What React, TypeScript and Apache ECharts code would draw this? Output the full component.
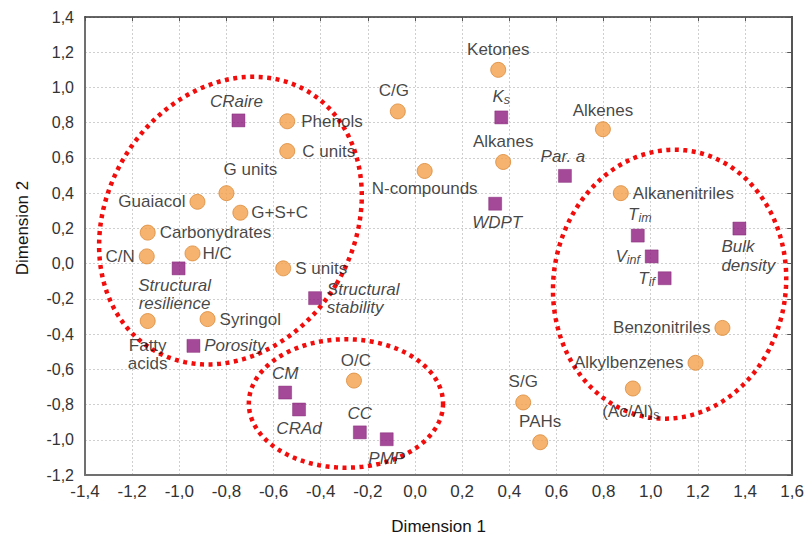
import React, { useEffect, useRef } from "react";
import * as echarts from "echarts";

// Organic compound variables (orange circles)
const compoundNames = [
  "Ketones", "C/G", "Phenols", "C units", "G units", "Guaiacol", "G+S+C",
  "Carbonydrates", "C/N", "H/C", "S units", "Fatty acids", "Syringol", "O/C",
  "N-compounds", "Alkanes", "Alkenes", "Alkanenitriles", "Benzonitriles",
  "Alkylbenzenes", "(Ac/Al)s", "S/G", "PAHs",
];
const compoundX = [
  0.353, -0.073, -0.542, -0.542, -0.8, -0.923, -0.741,
  -1.134, -1.138, -0.944, -0.559, -1.134, -0.88, -0.259,
  0.041, 0.374, 0.797, 0.873, 1.304,
  1.19, 0.924, 0.459, 0.531,
];
const compoundY = [
  1.1, 0.864, 0.808, 0.639, 0.4, 0.351, 0.289,
  0.176, 0.041, 0.058, -0.027, -0.326, -0.315, -0.664,
  0.526, 0.577, 0.763, 0.4, -0.365,
  -0.563, -0.709, -0.788, -1.014,
];

// Soil property variables (purple squares)
const propertyNames = [
  "CRaire", "Ks", "Par. a", "WDPT", "Tim", "Vinf", "Tif", "Bulk density",
  "Structural resilience", "Structural stability", "Porosity", "CM", "CRAd",
  "CC", "PMP",
];
const propertyX = [
  -0.749, 0.366, 0.636, 0.34, 0.945, 1.004, 1.059, 1.376,
  -1.003, -0.424, -0.94, -0.551, -0.492,
  -0.234, -0.12,
];
const propertyY = [
  0.813, 0.83, 0.498, 0.34, 0.159, 0.041, -0.083, 0.199,
  -0.027, -0.196, -0.467, -0.732, -0.828,
  -0.958, -0.997,
];

// Grouping ellipses: centre x, centre y, semi-axis x, semi-axis y (in x-axis units), clockwise tilt (deg)
const ellipseCX = [-0.783, -0.293, 1.08];
const ellipseCY = [0.244, -0.794, -0.117];
const ellipseRX = [0.524, 0.412, 0.493];
const ellipseRY = [0.639, 0.2725, 0.572];
const ellipseTilt = [31.2, 0, 8.3];

const X_MIN = -1.4, X_MAX = 1.6, Y_MIN = -1.2, Y_MAX = 1.4, STEP = 0.2;

const FONT = "'Liberation Sans', Arial, Helvetica, sans-serif";
const LABEL_SIZE = 17;
const ORANGE = "#F2A04B";
const ORANGE_EDGE = "#DC8A38";
const PURPLE = "#8D1C7E";

type Place = { pos: string; dx?: number; dy?: number; align?: string; lh?: number; dist?: number };

const placement: Record<string, Place> = {
  Ketones: { pos: "top" },
  "C/G": { pos: "top", dx: -4 },
  Phenols: { pos: "right", dist: 6 },
  "C units": { pos: "right", dist: 7 },
  "G units": { pos: "top", dx: 24, dy: -3 },
  Guaiacol: { pos: "left" },
  "G+S+C": { pos: "right", dist: 3 },
  Carbonydrates: { pos: "right", dist: 4 },
  "C/N": { pos: "left", dist: 4 },
  "H/C": { pos: "right", dist: 2 },
  "S units": { pos: "right" },
  "Fatty acids": { pos: "bottom", dy: 3, lh: 18 },
  Syringol: { pos: "right" },
  "O/C": { pos: "top", dx: 2 },
  "N-compounds": { pos: "bottom", dist: 1 },
  Alkanes: { pos: "top" },
  Alkenes: { pos: "top", dy: 2 },
  Alkanenitriles: { pos: "right" },
  Benzonitriles: { pos: "left" },
  Alkylbenzenes: { pos: "left" },
  "(Ac/Al)s": { pos: "bottom", dx: -2 },
  "S/G": { pos: "top" },
  PAHs: { pos: "top" },
  CRaire: { pos: "top", dx: -2 },
  Ks: { pos: "top" },
  "Par. a": { pos: "top", dx: -2 },
  WDPT: { pos: "bottom", dx: 2 },
  Tim: { pos: "top", dx: 2 },
  Vinf: { pos: "left", dist: 5 },
  Tif: { pos: "left", dist: 3 },
  "Bulk density": { pos: "bottom", dx: -18, align: "left", lh: 19, dist: 2 },
  "Structural resilience": { pos: "bottom", dx: -4, lh: 18, dist: 1 },
  "Structural stability": { pos: "right", lh: 18, dist: 5 },
  Porosity: { pos: "right" },
  CM: { pos: "top" },
  CRAd: { pos: "bottom" },
  CC: { pos: "top" },
  PMP: { pos: "bottom" },
};

// Label texts that need line breaks or subscripts
const labelText: Record<string, string> = {
  "Fatty acids": "Fatty\nacids",
  "(Ac/Al)s": "{n|(Ac/Al)}{subn|s}",
  Ks: "{i|K}{sub|s}",
  Tim: "{i|T}{sub|im}",
  Vinf: "{i|V}{sub|inf}",
  Tif: "{i|T}{sub|if}",
  "Bulk density": "Bulk\ndensity",
  "Structural resilience": "Structural\nresilience",
  "Structural stability": "Structural\nstability",
};

const rich = {
  n: { fontSize: LABEL_SIZE, lineHeight: 21, fontFamily: FONT, color: "#141414" },
  i: { fontSize: LABEL_SIZE, lineHeight: 21, fontStyle: "italic", fontFamily: FONT, color: "#141414" },
  sub: { fontSize: 12.5, lineHeight: 21, fontStyle: "italic", verticalAlign: "bottom", fontFamily: FONT, color: "#141414" },
  subn: { fontSize: 12.5, lineHeight: 21, verticalAlign: "bottom", fontFamily: FONT, color: "#141414" },
};

function makeItem(name: string, x: number, y: number, italic: boolean) {
  const p = placement[name] || { pos: "right" };
  const label: any = {
    show: true,
    position: p.pos,
    distance: p.dist ?? 4,
    offset: [p.dx ?? 0, p.dy ?? 0],
    formatter: labelText[name] ?? name,
    fontSize: LABEL_SIZE,
    fontFamily: FONT,
    fontStyle: italic ? "italic" : "normal",
    color: "#141414",
    rich,
  };
  if (p.align) label.align = p.align;
  if (p.lh) label.lineHeight = p.lh;
  return { name, value: [x, y], label };
}

const fmt = (v: number) => v.toFixed(1).replace(".", ",");

export default function App() {
  const ref = useRef<HTMLDivElement>(null);

  useEffect(() => {
    if (!ref.current) return;
    const chart = echarts.init(ref.current, undefined, { renderer: "svg" });

    const compounds = compoundNames.map((n, i) => makeItem(n, compoundX[i], compoundY[i], false));
    const properties = propertyNames.map((n, i) => makeItem(n, propertyX[i], propertyY[i], true));
    const ellipses = ellipseCX.map((cx, i) => [cx, ellipseCY[i], ellipseRX[i], ellipseRY[i], ellipseTilt[i]]);

    chart.setOption({
      animation: false,
      backgroundColor: "#ffffff",
      grid: { left: 85, right: 12, top: 17, bottom: 62 },
      xAxis: [
        {
          type: "value",
          min: X_MIN,
          max: X_MAX,
          interval: STEP,
          name: "Dimension 1",
          nameLocation: "middle",
          nameGap: 43,
          nameTextStyle: { fontSize: 17, fontFamily: FONT, color: "#141414" },
          axisLine: { show: true, onZero: false, lineStyle: { color: "#707070", width: 2 } },
          axisTick: { show: false },
          axisLabel: { formatter: fmt, fontSize: 17, fontFamily: FONT, color: "#333", margin: 8 },
          splitLine: { show: true, lineStyle: { color: "#cfcfcf", type: [2, 2], width: 1 } },
        },
        {
          type: "value",
          position: "top",
          min: X_MIN,
          max: X_MAX,
          interval: STEP,
          axisLine: { show: true, onZero: false, lineStyle: { color: "#333", width: 1.5 } },
          axisTick: { show: true, inside: true, length: 4, lineStyle: { color: "#555" } },
          axisLabel: { show: false },
          splitLine: { show: false },
        },
      ],
      yAxis: [
        {
          type: "value",
          min: Y_MIN,
          max: Y_MAX,
          interval: STEP,
          axisLine: { show: true, onZero: false, lineStyle: { color: "#707070", width: 2 } },
          axisTick: { show: false },
          axisLabel: { formatter: fmt, fontSize: 16, fontFamily: FONT, color: "#333", margin: 11 },
          splitLine: { show: true, lineStyle: { color: "#cfcfcf", type: [2, 2], width: 1 } },
        },
        {
          type: "value",
          position: "right",
          min: Y_MIN,
          max: Y_MAX,
          interval: STEP,
          axisLine: { show: true, onZero: false, lineStyle: { color: "#555", width: 2 } },
          axisTick: { show: true, inside: true, length: 5, lineStyle: { color: "#555" } },
          axisLabel: { show: false },
          splitLine: { show: false },
        },
      ],
      graphic: [
        {
          type: "text",
          x: 22,
          y: 228,
          rotation: Math.PI / 2,
          style: {
            text: "Dimension 2",
            fontSize: 17,
            fontFamily: FONT,
            fill: "#141414",
            align: "center",
            verticalAlign: "middle",
          },
        },
      ],
      series: [
        {
          type: "custom",
          xAxisIndex: 0,
          yAxisIndex: 0,
          clip: false,
          silent: true,
          z: 1,
          data: ellipses,
          encode: { x: 0, y: 1 },
          renderItem: (_params: any, api: any) => {
            const c = api.coord([api.value(0), api.value(1)]);
            const ux = api.size([1, 0])[0];
            const rx = api.value(2) * ux;
            const ry = api.value(3) * ux;
            const th = (api.value(4) * Math.PI) / 180;
            const cos = Math.cos(th), sin = Math.sin(th);
            const pts: number[][] = [];
            const n = 180;
            for (let k = 0; k < n; k++) {
              const t = (k / n) * Math.PI * 2;
              const ex = rx * Math.cos(t);
              const ey = ry * Math.sin(t);
              pts.push([c[0] + ex * cos - ey * sin, c[1] + ex * sin + ey * cos]);
            }
            return {
              type: "polygon",
              shape: { points: pts },
              style: { fill: "none", stroke: "#f20d0d", lineWidth: 4.5, lineDash: [4, 4.5], lineCap: "butt" },
            };
          },
        },
        {
          type: "scatter",
          name: "Compounds",
          xAxisIndex: 0,
          yAxisIndex: 0,
          symbol: "circle",
          symbolSize: 15,
          z: 3,
          itemStyle: { color: ORANGE, borderColor: ORANGE_EDGE, borderWidth: 1 },
          data: compounds,
        },
        {
          type: "scatter",
          name: "Properties",
          xAxisIndex: 0,
          yAxisIndex: 0,
          symbol: "rect",
          symbolSize: 13,
          z: 3,
          itemStyle: { color: PURPLE, borderColor: "#7a1a6c", borderWidth: 0.5 },
          data: properties,
        },
      ],
    });

    return () => chart.dispose();
  }, []);

  return (
    <div
      ref={ref}
      style={{ position: "fixed", left: 0, top: 0, width: 807, height: 540, background: "#fff" }}
    />
  );
}
